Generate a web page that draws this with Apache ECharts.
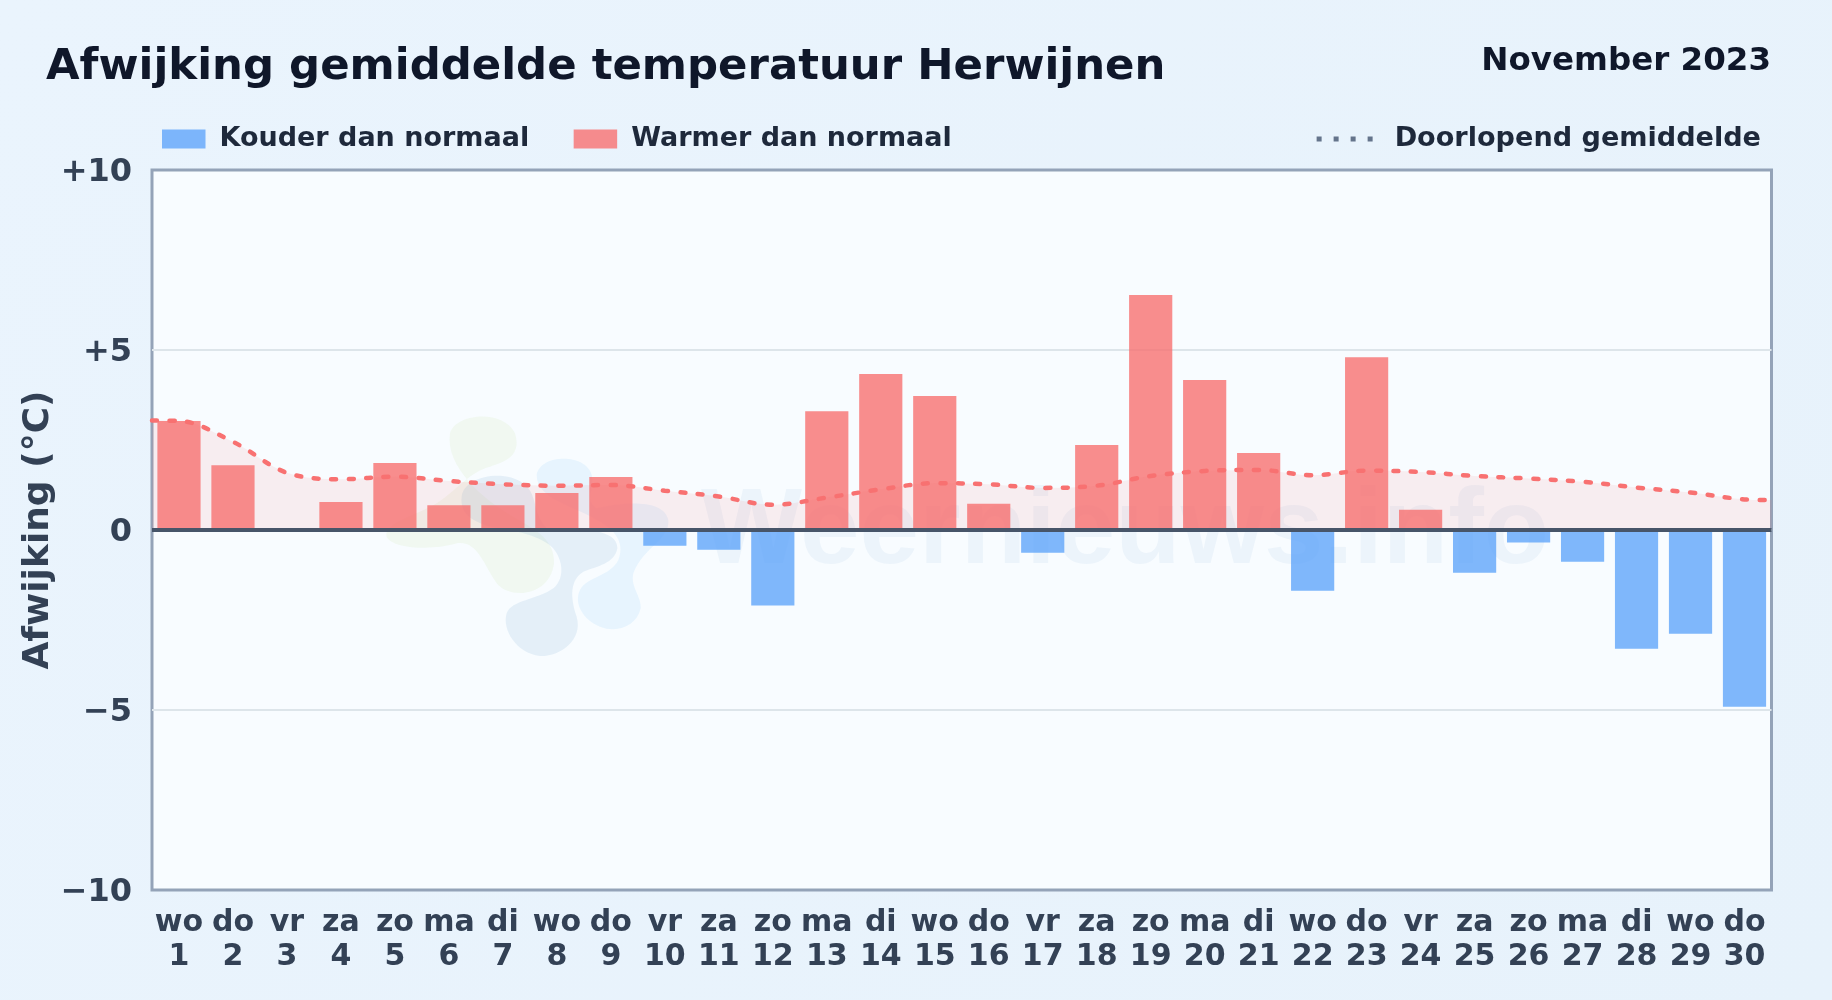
<!DOCTYPE html>
<html><head><meta charset="utf-8">
<style>html,body{margin:0;padding:0;background:#e8f3fc}#c{width:1832px;height:1000px}</style>
<script src="https://cdn.jsdelivr.net/npm/echarts@6/dist/echarts.min.js"></script>
</head><body><div id="c"></div>
<script>
const weekdays = ['wo','do','vr','za','zo','ma','di','wo','do','vr','za','zo','ma','di','wo','do','vr','za','zo','ma','di','wo','do','vr','za','zo','ma','di','wo','do'];
const days = [1,2,3,4,5,6,7,8,9,10,11,12,13,14,15,16,17,18,19,20,21,22,23,24,25,26,27,28,29,30];
const deviation = [3.03,1.8,0,0.78,1.86,0.69,0.69,1.03,1.47,-0.44,-0.55,-2.1,3.3,4.33,3.72,0.73,-0.63,2.36,6.53,4.17,2.14,-1.69,4.8,0.56,-1.19,-0.35,-0.88,-3.3,-2.88,-4.91];
const runningMean = [3.03,2.45,1.59,1.41,1.48,1.36,1.27,1.23,1.25,1.09,0.93,0.70,0.90,1.13,1.30,1.27,1.17,1.23,1.50,1.64,1.67,1.52,1.65,1.61,1.50,1.43,1.34,1.18,1.04,0.85];
const runningEdges = [3.04,0.83];
const yTicks = {'10':'+10','5':'+5','0':'0','-5':'\u22125','-10':'\u221210'};
const F = 'DejaVu Sans';

const linePts = [[-0.5,runningEdges[0]]].concat(runningMean.map((v,i)=>[i,v]),[[29.5,runningEdges[1]]]);
const blobPaths = {
  wmGreen:'M240,100 C255,40 400,25 435,100 C455,165 410,185 360,200 C300,215 260,270 200,310 C130,350 40,370 50,410 C70,450 200,450 260,430 C320,420 340,490 380,550 C420,600 540,590 552,490 C555,420 500,390 430,350 C340,300 225,200 240,100 Z',
  wmDark:'M275,290 C280,230 400,205 460,250 C510,290 480,340 540,395 C600,385 745,380 742,445 C735,490 680,500 640,515 C600,540 600,590 620,650 C640,720 570,770 510,768 C440,760 395,690 410,640 C425,600 500,600 550,565 C590,530 575,470 545,440 C500,400 420,390 360,380 C300,360 270,340 275,290 Z',
  wmLight:'M500,225 C510,160 650,160 665,225 C675,280 640,295 680,325 C740,310 880,290 895,360 C900,420 820,440 790,520 C780,560 815,590 812,625 C800,680 740,700 690,680 C640,660 610,610 630,570 C650,530 720,530 745,480 C770,420 720,380 680,360 C620,320 500,300 500,225 Z'
};
Object.keys(blobPaths).forEach(k=>echarts.graphic.registerShape(k,echarts.graphic.extendPath(blobPaths[k],{})));
const blob = (type,fill)=>({type,z:1,silent:true,x:370,y:400,scaleX:1/3,scaleY:1/3,style:{fill}});

const chart = echarts.init(document.getElementById('c'),null,{renderer:'canvas'});
chart.setOption({
  animation:false,
  backgroundColor:{type:'linear',x:0,y:0,x2:1,y2:1,colorStops:[{offset:0,color:'#eaf4fd'},{offset:1,color:'#e7f2fb'}]},
  textStyle:{fontFamily:F},
  title:[
    {text:'Afwijking gemiddelde temperatuur Herwijnen',left:46,top:46,padding:0,textStyle:{fontFamily:F,fontWeight:'bold',fontSize:43.4,color:'#0f172a'}},
    {text:'November 2023',right:61,top:45,padding:0,textStyle:{fontFamily:F,fontWeight:'bold',fontSize:32.5,color:'#0f172a'}}
  ],
  legend:[
    {left:162,top:125.5,padding:0,itemWidth:43.5,itemHeight:19,itemGap:44.5,icon:'rect',
     data:['Kouder dan normaal','Warmer dan normaal'],
     textStyle:{fontFamily:F,fontWeight:'bold',fontSize:27,color:'#1e293b',padding:[0,0,0,9]}},
    {right:71,top:125.5,padding:0,itemWidth:56,itemHeight:5,
     data:[{name:'Doorlopend gemiddelde',icon:'path://M0,0h5v5h-5zM17,0h5v5h-5zM34,0h5v5h-5zM51,0h5v5h-5z',itemStyle:{color:'#64748b'}}],
     textStyle:{fontFamily:F,fontWeight:'bold',fontSize:27.1,color:'#1e293b',padding:[0,0,0,17]}}
  ],
  grid:{left:152,top:170,width:1619.5,height:720,show:true,backgroundColor:'#f8fcff',borderColor:'#94a3b8',borderWidth:3,containLabel:false},
  xAxis:[
    {type:'category',data:weekdays.map((w,i)=>w+'\n'+days[i]),position:'bottom',
     axisLine:{show:false,onZero:false},axisTick:{show:false},
     axisLabel:{interval:0,margin:16,fontFamily:F,fontWeight:'bold',fontSize:30,lineHeight:34,color:'#334155'}},
    {type:'value',min:-0.5,max:29.5,show:false}
  ],
  yAxis:{type:'value',min:-10,max:10,interval:5,
    name:'Afwijking (\u00b0C)',nameLocation:'middle',nameGap:95,nameRotate:90,nameMoveOverlap:false,
    nameTextStyle:{fontFamily:F,fontWeight:'bold',fontSize:36,color:'#334155'},
    axisLine:{show:false},axisTick:{show:false},
    axisLabel:{margin:20,fontFamily:F,fontWeight:'bold',fontSize:32,color:'#334155',verticalAlign:'top',lineHeight:6,formatter:v=>yTicks[String(v)]},
    splitLine:{showMinLine:false,showMaxLine:false,lineStyle:{color:'#dde5ea',width:2}}},
  graphic:[
    blob('wmGreen','rgba(190,225,150,0.13)'),
    blob('wmDark','rgba(140,185,215,0.18)'),
    blob('wmLight','rgba(125,200,250,0.14)'),
    {type:'text',z:1,silent:true,left:701,top:480,style:{text:'Weernieuws.info',font:'bold 107px "Liberation Sans"',fill:'rgba(96,150,210,0.08)'}}
  ],
  series:[
    {name:'Kouder dan normaal',type:'bar',stack:'d',barWidth:'80%',data:deviation.map(v=>v<0?v:null),itemStyle:{color:'rgba(96,165,250,0.8)'}},
    {name:'Warmer dan normaal',type:'bar',stack:'d',barWidth:'80%',data:deviation.map(v=>v>0?v:null),itemStyle:{color:'rgba(248,113,113,0.8)'},
     markLine:{silent:true,symbol:'none',label:{show:false},animation:false,data:[{yAxis:0}],lineStyle:{color:'#475569',width:4,type:'solid'},z:6}},
    {name:'Doorlopend gemiddelde',type:'line',xAxisIndex:1,data:linePts,smooth:0.35,symbol:'none',z:4,
     lineStyle:{color:'#f87171',width:4.5,type:[5,12.5],cap:'round'},
     itemStyle:{color:'#64748b'},
     areaStyle:{color:'rgba(248,113,113,0.15)'}}
  ]
});
</script></body></html>
